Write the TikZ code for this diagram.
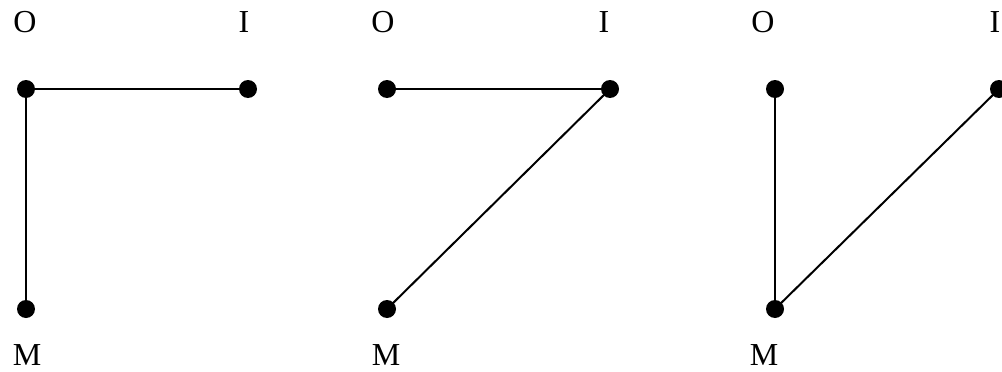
\documentclass[tikz,border=0pt]{standalone}
\usepackage{fontspec}
\setmainfont{Liberation Serif}
\begin{document}
\begin{tikzpicture}[x=1pt,y=-1pt,
  dot/.style={circle,fill=black,inner sep=0pt,minimum size=18pt},
  lbl/.style={inner sep=0pt,font=\fontsize{32}{38}\selectfont},
  edge/.style={line width=2pt}]
\useasboundingbox (0,0) rectangle (1002,372);
% graph 1
\node[dot] (o1) at (26,89) {};
\node[dot] (i1) at (248,89) {};
\node[dot] (m1) at (26,309) {};
\node[lbl] (lo1) at (25,22) {O};
\node[lbl] (li1) at (244,22) {I};
\node[lbl] (lm1) at (27,355) {M};
\draw[edge] (o1.center) -- (i1.center);
\draw[edge] (o1.center) -- (m1.center);
% graph 2
\node[dot] (o2) at (387,89) {};
\node[dot] (i2) at (610,89) {};
\node[dot] (m2) at (387,309) {};
\node[lbl] (lo2) at (383,22) {O};
\node[lbl] (li2) at (604,22) {I};
\node[lbl] (lm2) at (386,355) {M};
\draw[edge] (o2.center) -- (i2.center);
\draw[edge] (i2.center) -- (m2.center);
% graph 3
\node[dot] (o3) at (775,89) {};
\node[dot] (i3) at (999,89) {};
\node[dot] (m3) at (775,309) {};
\node[lbl] (lo3) at (763,22) {O};
\node[lbl] (li3) at (995,22) {I};
\node[lbl] (lm3) at (764,355) {M};
\draw[edge] (o3.center) -- (m3.center);
\draw[edge] (m3.center) -- (i3.center);
\end{tikzpicture}
\end{document}
